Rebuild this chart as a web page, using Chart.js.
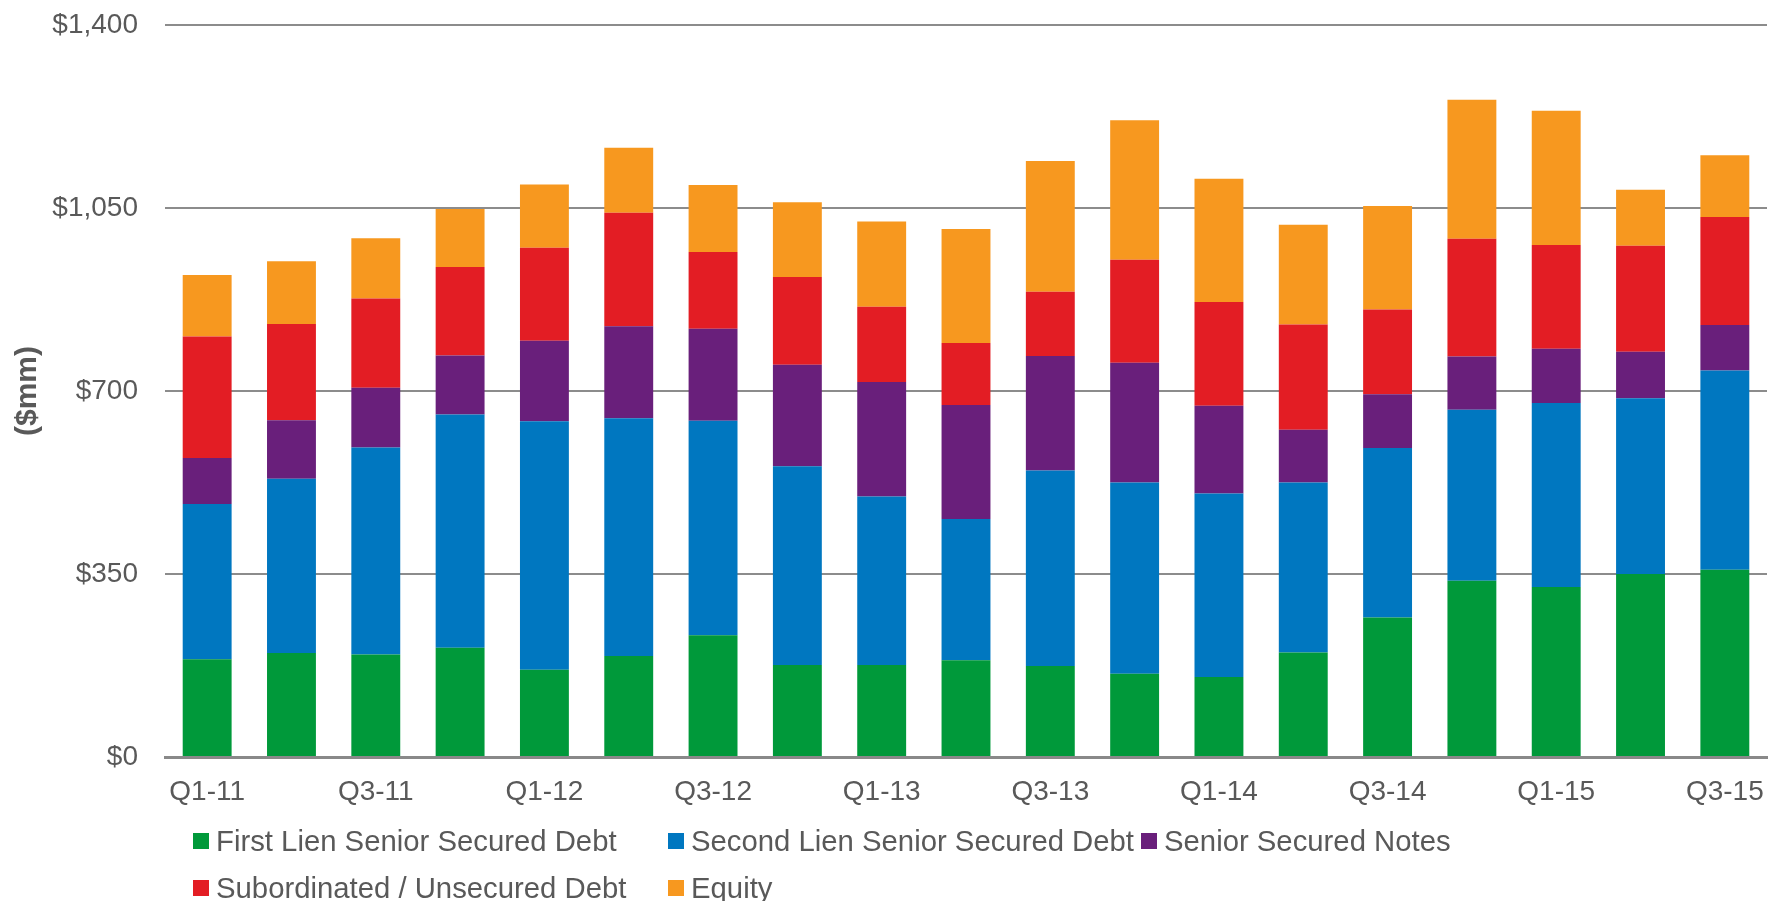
<!DOCTYPE html>
<html>
<head>
<meta charset="utf-8">
<script src="https://cdn.jsdelivr.net/npm/chart.js@4.4.1/dist/chart.umd.min.js"></script>
<style>
  html, body { margin: 0; padding: 0; background: #fff; }
  #wrap { position: relative; width: 1769px; height: 901px; }
  #legend {
    position: absolute; left: 193px; top: 817px;
    display: grid; grid-template-columns: 475px 473px auto;
    grid-auto-rows: 47px;
    font-family: "Liberation Sans", Arial, sans-serif; font-size: 29.3px; color: #595959;
  }
  .item { display: flex; align-items: center; white-space: nowrap; }
  .box { width: 16px; height: 16px; margin-right: 7px; flex: none; }
</style>
</head>
<body>
<div id="wrap">
  <canvas id="c"></canvas>
  <div id="legend"></div>
</div>
<script>
const categories = ["Q1-11","Q2-11","Q3-11","Q4-11","Q1-12","Q2-12","Q3-12","Q4-12","Q1-13","Q2-13","Q3-13","Q4-13","Q1-14","Q2-14","Q3-14","Q4-14","Q1-15","Q2-15","Q3-15"];
const firstLien   = [187, 199, 196, 209, 167, 193, 233, 176, 176, 185, 174, 159, 153, 200, 267, 337, 325, 350, 358];
const secondLien  = [297, 333, 396, 446, 475, 455, 410, 380, 322, 270, 374, 366, 351, 325, 324, 327, 352, 336, 381];
const seniorNotes = [88, 112, 114, 113, 154, 176, 176, 194, 219, 218, 219, 229, 168, 101, 103, 102, 104, 89, 87];
const subordinated = [232, 184, 171, 169, 178, 217, 147, 168, 144, 119, 123, 197, 198, 201, 162, 225, 198, 203, 207];
const equity      = [118, 120, 115, 111, 121, 124, 128, 143, 163, 218, 250, 267, 236, 191, 198, 266, 257, 107, 118];
const seriesNames = ["First Lien Senior Secured Debt", "Second Lien Senior Secured Debt", "Senior Secured Notes", "Subordinated / Unsecured Debt", "Equity"];
const yTicks = [0, 350, 700, 1050, 1400];

const colors = ["#00993A", "#0077C0", "#691F7B", "#E31D24", "#F7981F"];
const seriesData = [firstLien, secondLien, seniorNotes, subordinated, equity];

const FONT = '"Liberation Sans", Arial, sans-serif';
const GREY = '#595959';

const datasets = seriesData.map((d, i) => ({
  label: seriesNames[i],
  data: d,
  backgroundColor: colors[i],
  borderWidth: 0,
  barPercentage: 0.58,
  categoryPercentage: 1.0
}));

new Chart(document.getElementById('c'), {
  type: 'bar',
  data: { labels: categories, datasets },
  options: {
    responsive: true,
    maintainAspectRatio: false,
    animation: false,
    layout: { padding: { left: 0, right: 2, top: 25, bottom: 94 } },
    plugins: { legend: { display: false }, tooltip: { enabled: false } },
    scales: {
      x: {
        stacked: true,
        grid: { display: false, drawTicks: false },
        border: { display: true, color: '#898989', width: 3 },
        ticks: {
          autoSkip: false, maxRotation: 0, padding: 18,
          color: GREY, font: { family: FONT, size: 28 },
          callback: function(v, i) { return i % 2 === 0 ? categories[i] : ''; }
        },
        afterFit: s => { s.height = 50; s.paddingLeft = 0; s.paddingRight = 0; }
      },
      y: {
        stacked: true,
        min: 0, max: 1400,
        afterBuildTicks: s => { s.ticks = yTicks.map(v => ({ value: v })); },
        grid: { color: '#8c8c8c', lineWidth: 2, drawTicks: false },
        border: { display: false },
        ticks: {
          padding: 27, color: GREY, font: { family: FONT, size: 28 },
          callback: v => '$' + Number(v).toLocaleString('en-US')
        },
        title: {
          display: true, text: '($mm)', color: GREY,
          font: { family: FONT, size: 30, weight: 'bold' },
          padding: { top: 10, bottom: 0 }
        },
        afterFit: s => { s.width = 165; s.paddingTop = 0; s.paddingBottom = 0; }
      }
    }
  }
});

const legend = document.getElementById('legend');
seriesNames.forEach((name, i) => {
  const item = document.createElement('div');
  item.className = 'item';
  const box = document.createElement('span');
  box.className = 'box';
  box.style.background = colors[i];
  const txt = document.createElement('span');
  txt.textContent = name;
  item.appendChild(box);
  item.appendChild(txt);
  legend.appendChild(item);
});
</script>
</body>
</html>
